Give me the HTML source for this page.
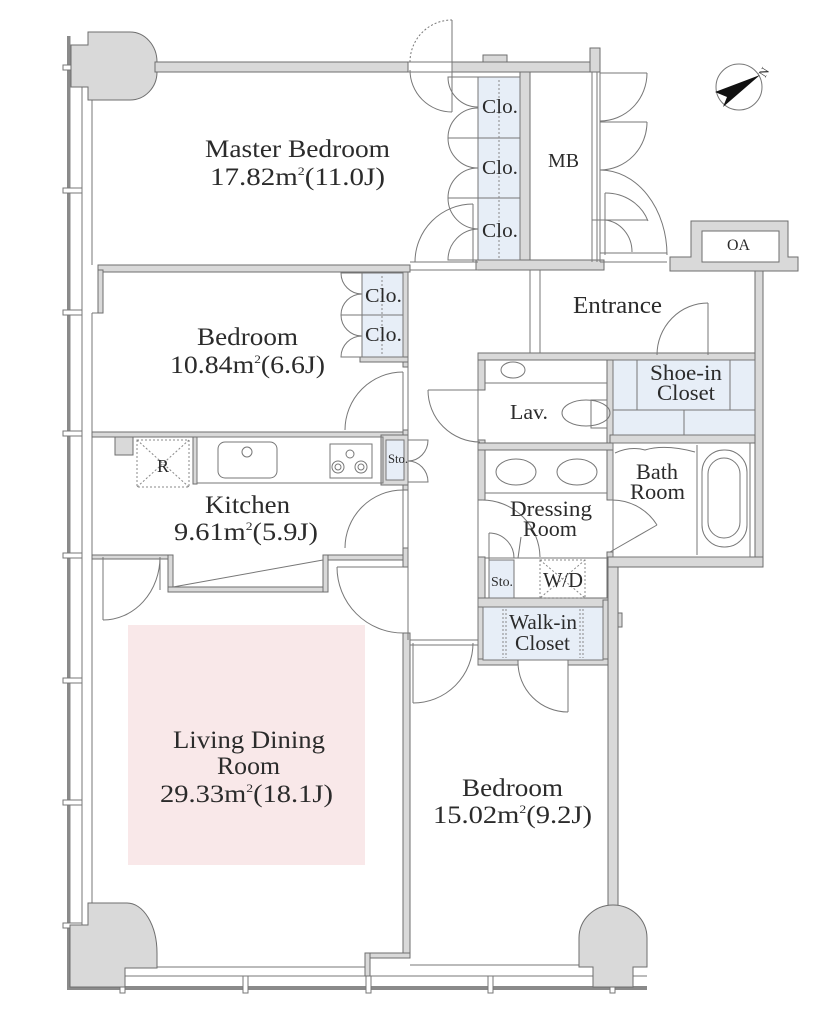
<!DOCTYPE html>
<html><head><meta charset="utf-8"><style>
html,body{margin:0;padding:0;background:#fff;}
svg{display:block;}
text{font-family:"Liberation Serif",serif;fill:#2b2b2b;}
</style></head><body>
<svg width="836" height="1024" viewBox="0 0 836 1024" xmlns="http://www.w3.org/2000/svg">
<rect width="836" height="1024" fill="#fff"/>

<!-- pink LD area -->
<rect x="128" y="625" width="237" height="240" fill="#f9e8e9"/>

<!-- left window strip -->
<g stroke="#777" stroke-width="1" fill="none">
<line x1="82" y1="45" x2="82" y2="925"/>
<line x1="92" y1="100" x2="92" y2="265"/>
<line x1="92" y1="313" x2="92" y2="903"/>
<line x1="92" y1="313" x2="103" y2="313"/>
<line x1="125" y1="976" x2="647" y2="976"/>
<line x1="157" y1="967" x2="367" y2="967"/>
<line x1="410" y1="965" x2="579" y2="965"/>
</g>
<rect x="67" y="36" width="3.5" height="954" fill="#8a8a8a"/>
<rect x="67" y="986" width="580" height="4" fill="#8a8a8a"/>
<g fill="#fff" stroke="#777" stroke-width="1">
<rect x="63" y="65" width="19" height="5"/>
<rect x="63" y="188" width="19" height="5"/>
<rect x="63" y="310" width="19" height="5"/>
<rect x="63" y="431" width="19" height="5"/>
<rect x="63" y="553" width="19" height="5"/>
<rect x="63" y="678" width="19" height="5"/>
<rect x="63" y="800" width="19" height="5"/>
<rect x="63" y="923" width="19" height="5"/>
<rect x="120" y="976" width="5" height="17"/>
<rect x="243" y="976" width="5" height="17"/>
<rect x="366" y="976" width="5" height="17"/>
<rect x="488" y="976" width="5" height="17"/>
<rect x="610" y="976" width="5" height="17"/>
</g>

<!-- walls -->
<g fill="#d9d9d9" stroke="#6e6e6e" stroke-width="1">
<path d="M88,32 L130,32 A27,30 0 0 1 157,62 L157,72 A27,28 0 0 1 130,100 L88,100 L88,87 L71,87 L71,45 L88,45 Z"/>
<rect x="155" y="62" width="253" height="10"/>
<rect x="452" y="62" width="148" height="10"/>
<rect x="483" y="55" width="24" height="7"/>
<rect x="590" y="48" width="10" height="24"/>
<rect x="520" y="72" width="10" height="190"/>
<rect x="476" y="260" width="128" height="10"/>
<rect x="98" y="265" width="312" height="7"/>
<rect x="98" y="270" width="5" height="43"/>
<rect x="403" y="272" width="5" height="95"/>
<rect x="360" y="357" width="48" height="5"/>
<rect x="92" y="432" width="316" height="5"/>
<rect x="403" y="430" width="5" height="60"/>
<rect x="381" y="435" width="27" height="50"/>
<rect x="115" y="437" width="18" height="18"/>
<rect x="193" y="437" width="4" height="47"/>
<rect x="92" y="555" width="76" height="4"/>
<rect x="168" y="555" width="5" height="37"/>
<rect x="168" y="587" width="160" height="5"/>
<rect x="323" y="555" width="5" height="37"/>
<rect x="328" y="555" width="80" height="5"/>
<rect x="403" y="548" width="5" height="19"/>
<rect x="403" y="633" width="7" height="325"/>
<rect x="365" y="953" width="45" height="5"/>
<rect x="365" y="953" width="5" height="23"/>
<!-- lav block -->
<rect x="478" y="353" width="285" height="7"/>
<rect x="478" y="360" width="7" height="30"/>
<rect x="478" y="440" width="7" height="60"/>
<rect x="478" y="557" width="7" height="108"/>
<rect x="607" y="360" width="6" height="140"/>
<rect x="607" y="552" width="6" height="48"/>
<rect x="478" y="443" width="135" height="7"/>
<rect x="610" y="435" width="153" height="8"/>
<rect x="755" y="271" width="8" height="296"/>
<rect x="608" y="557" width="155" height="10"/>
<rect x="608" y="567" width="10" height="340"/>
<rect x="618" y="613" width="4" height="14"/>
<rect x="478" y="598" width="130" height="9"/>
<rect x="603" y="600" width="5" height="65"/>
<rect x="478" y="659" width="40" height="6"/>
<rect x="568" y="659" width="40" height="6"/>
<!-- entrance top + OA -->
<path d="M670,257 L691,257 L691,221 L788,221 L788,257 L798,257 L798,271 L670,271 Z"/>
<!-- columns -->
<path d="M88,903 L127,903 A30,50 0 0 1 157,953 L157,968 L125,968 L125,987 L70,987 L70,925 L88,925 Z"/>
<path d="M579,967 L579,938 A34,33 0 0 1 647,938 L647,967 L633,967 L633,987 L593,987 L593,967 Z"/>
</g>
<rect x="702" y="231" width="77" height="31" fill="#fff" stroke="#6e6e6e"/>

<!-- closets blue -->
<g fill="#e7eef7" stroke="#777" stroke-width="1">
<rect x="478" y="77" width="42" height="183"/>
<rect x="362" y="273" width="41" height="84"/>
<rect x="386" y="440" width="18" height="40"/>
<rect x="483" y="607" width="120" height="53"/>
<rect x="489" y="560" width="25" height="38"/>
<rect x="613" y="360" width="142" height="75"/>
</g>
<g stroke="#777" stroke-width="1" fill="none">
<line x1="478" y1="138" x2="520" y2="138"/>
<line x1="478" y1="198" x2="520" y2="198"/>
<line x1="362" y1="315" x2="403" y2="315"/>
<line x1="637" y1="360" x2="637" y2="410"/>
<line x1="730" y1="360" x2="730" y2="410"/>
<line x1="613" y1="410" x2="755" y2="410"/>
<line x1="684" y1="410" x2="684" y2="435"/>
</g>
<g stroke="#888" stroke-width="1" fill="none" stroke-dasharray="2,2">
<line x1="499" y1="80" x2="499" y2="258"/>
<line x1="382" y1="276" x2="382" y2="355"/>
<line x1="503" y1="609" x2="503" y2="658"/>
<line x1="506" y1="609" x2="506" y2="658"/>
<line x1="580" y1="609" x2="580" y2="658"/>
<line x1="583" y1="609" x2="583" y2="658"/>
<rect x="540" y="560" width="45" height="38"/>
<line x1="540" y1="560" x2="585" y2="598"/>
<line x1="585" y1="560" x2="540" y2="598"/>
<rect x="137" y="440" width="52" height="47"/>
<line x1="137" y1="440" x2="189" y2="487"/>
<line x1="189" y1="440" x2="137" y2="487"/>
</g>

<!-- fixtures & lines -->
<g stroke="#777" stroke-width="1" fill="none">
<line x1="408" y1="272" x2="408" y2="640"/>
<line x1="478" y1="353" x2="478" y2="665"/>
<line x1="530" y1="270" x2="530" y2="353"/>
<line x1="540" y1="270" x2="540" y2="353"/>
<line x1="592" y1="72" x2="592" y2="262"/>
<line x1="597" y1="72" x2="597" y2="262"/>
<line x1="600" y1="72" x2="600" y2="262"/>
<line x1="600" y1="253" x2="667" y2="253"/>
<line x1="600" y1="262" x2="667" y2="262"/>
<line x1="408" y1="62" x2="452" y2="62"/>
<line x1="408" y1="72" x2="452" y2="72"/>
<line x1="410" y1="262" x2="478" y2="262"/>
<line x1="410" y1="270" x2="478" y2="270"/>
<line x1="410" y1="640" x2="478" y2="640"/>
<line x1="410" y1="645" x2="478" y2="645"/>
<!-- kitchen counter -->
<rect x="197" y="437" width="186" height="46"/>
<rect x="218" y="442" width="59" height="36" rx="7"/>
<circle cx="247" cy="452" r="5"/>
<rect x="330" y="444" width="42" height="34"/>
<circle cx="350" cy="454" r="4"/>
<circle cx="338" cy="467" r="6"/><circle cx="338" cy="467" r="3"/>
<circle cx="361" cy="467" r="6"/><circle cx="361" cy="467" r="3"/>
<line x1="173" y1="587" x2="323" y2="560"/>
<!-- lav -->
<line x1="485" y1="383" x2="607" y2="383"/>
<ellipse cx="513" cy="370" rx="12" ry="8"/>
<ellipse cx="586" cy="413" rx="24" ry="13"/>
<rect x="591" y="400" width="16" height="28"/>
<!-- dressing -->
<line x1="485" y1="493" x2="607" y2="493"/>
<ellipse cx="516" cy="472" rx="20" ry="13"/>
<ellipse cx="577" cy="472" rx="20" ry="13"/>
<line x1="485" y1="558" x2="607" y2="558"/>
<!-- bath -->
<rect x="613" y="443" width="137" height="114"/>
<line x1="697" y1="445" x2="697" y2="555"/>
<rect x="702" y="450" width="45" height="97" rx="22"/>
<rect x="708" y="458" width="32" height="80" rx="16"/>
<path d="M615,453 Q630,446 645,450 Q665,444 695,452"/>
<!-- doors -->
<line x1="452" y1="20" x2="452" y2="112"/>
<path d="M410,70 A42,42 0 0 0 452,112"/>
<path d="M410,62 A42,42 0 0 1 452,20" stroke-dasharray="2,2"/>
<line x1="473" y1="204" x2="473" y2="262"/>
<path d="M415,262 A58,58 0 0 1 473,204"/>
<line x1="403" y1="372" x2="403" y2="430"/>
<path d="M345,430 A58,58 0 0 1 403,372"/>
<line x1="403" y1="490" x2="403" y2="548"/>
<path d="M345,548 A58,58 0 0 1 403,490"/>
<line x1="337" y1="567" x2="403" y2="567"/>
<path d="M337,567 A66,66 0 0 0 403,633"/>
<line x1="103" y1="557" x2="103" y2="620"/>
<path d="M103,620 A57,63 0 0 0 160,557"/>
<line x1="160" y1="557" x2="160" y2="590"/>
<line x1="428" y1="390" x2="480" y2="390"/>
<path d="M428,390 A52,52 0 0 0 480,442"/>
<path d="M482,500 A58,58 0 0 1 540,557"/>
<line x1="489" y1="533" x2="489" y2="560"/>
<path d="M489,533 A25,25 0 0 1 514,558"/>
<line x1="518" y1="558" x2="521" y2="537"/>
<line x1="610" y1="552" x2="657" y2="525"/>
<path d="M657,525 A53,53 0 0 0 610,500"/>
<line x1="568" y1="660" x2="568" y2="712"/>
<path d="M518,662 A50,50 0 0 0 568,712"/>
<line x1="413" y1="643" x2="413" y2="703"/>
<path d="M413,703 A60,60 0 0 0 473,643"/>
<line x1="708" y1="303" x2="708" y2="355"/>
<path d="M708,303 A51,52 0 0 0 657,355"/>
<!-- MB doors -->
<line x1="600" y1="73" x2="647" y2="73"/>
<path d="M647,73 A47,48 0 0 1 600,121"/>
<line x1="600" y1="122" x2="647" y2="122"/>
<path d="M647,122 A47,48 0 0 1 600,170"/>
<path d="M600,170 A67,85 0 0 1 667,255"/>
<line x1="605" y1="193" x2="605" y2="255"/>
<path d="M605,193 A45,42 0 0 1 648,221"/>
<line x1="592" y1="220" x2="648" y2="220"/>
<path d="M605,220 A30,32 0 0 1 632,252"/>
<!-- closet bifold doors -->
<path d="M478,77 H448 A30,30 0 0 0 478,107 M478,138 H448 A30,30 0 0 1 478,108"/>
<path d="M478,138 H448 A30,30 0 0 0 478,168 M478,198 H448 A30,30 0 0 1 478,168"/>
<path d="M478,198 H448 A31,31 0 0 0 478,229 M478,260 H448 A31,31 0 0 1 478,229"/>
<path d="M362,273 H341 A21,21 0 0 0 362,294 M362,315 H341 A21,21 0 0 1 362,294"/>
<path d="M362,315 H341 A21,21 0 0 0 362,336 M362,357 H341 A21,21 0 0 1 362,336"/>
<path d="M408,440 H428 A20,21 0 0 1 408,461 M408,482 H428 A20,21 0 0 0 408,461"/>
</g>

<!-- north arrow -->
<circle cx="739" cy="87" r="23" fill="none" stroke="#777" stroke-width="1"/>
<polygon points="760,75 715,92 727,97 723,107" fill="#111"/>
<text x="0" y="0" font-size="12" transform="translate(765,78) rotate(-58)">N</text>

<!-- labels -->
<text x="205" y="157" font-size="25" textLength="185" lengthAdjust="spacingAndGlyphs">Master Bedroom</text>
<text x="210" y="185" font-size="25" textLength="175" lengthAdjust="spacingAndGlyphs">17.82m<tspan font-size="12" dy="-10">2</tspan><tspan dy="10">(11.0J)</tspan></text>
<text x="197" y="345" font-size="25" textLength="101" lengthAdjust="spacingAndGlyphs">Bedroom</text>
<text x="170" y="373" font-size="25" textLength="155" lengthAdjust="spacingAndGlyphs">10.84m<tspan font-size="12" dy="-10">2</tspan><tspan dy="10">(6.6J)</tspan></text>
<text x="205" y="513" font-size="25" textLength="85" lengthAdjust="spacingAndGlyphs">Kitchen</text>
<text x="174" y="540" font-size="25" textLength="144" lengthAdjust="spacingAndGlyphs">9.61m<tspan font-size="12" dy="-10">2</tspan><tspan dy="10">(5.9J)</tspan></text>
<text x="173" y="748" font-size="25" textLength="152" lengthAdjust="spacingAndGlyphs">Living Dining</text>
<text x="217" y="774" font-size="25" textLength="63" lengthAdjust="spacingAndGlyphs">Room</text>
<text x="160" y="802" font-size="25" textLength="173" lengthAdjust="spacingAndGlyphs">29.33m<tspan font-size="12" dy="-10">2</tspan><tspan dy="10">(18.1J)</tspan></text>
<text x="462" y="796" font-size="25" textLength="101" lengthAdjust="spacingAndGlyphs">Bedroom</text>
<text x="433" y="823" font-size="25" textLength="159" lengthAdjust="spacingAndGlyphs">15.02m<tspan font-size="12" dy="-10">2</tspan><tspan dy="10">(9.2J)</tspan></text>
<text x="573" y="313" font-size="24" textLength="89" lengthAdjust="spacingAndGlyphs">Entrance</text>
<text x="548" y="167" font-size="20" textLength="31" lengthAdjust="spacingAndGlyphs">MB</text>
<text x="482" y="113" font-size="20" textLength="36" lengthAdjust="spacingAndGlyphs">Clo.</text>
<text x="482" y="174" font-size="20" textLength="36" lengthAdjust="spacingAndGlyphs">Clo.</text>
<text x="482" y="237" font-size="20" textLength="36" lengthAdjust="spacingAndGlyphs">Clo.</text>
<text x="365" y="302" font-size="20" textLength="37" lengthAdjust="spacingAndGlyphs">Clo.</text>
<text x="365" y="341" font-size="20" textLength="37" lengthAdjust="spacingAndGlyphs">Clo.</text>
<text x="727" y="250" font-size="16" textLength="23" lengthAdjust="spacingAndGlyphs">OA</text>
<text x="650" y="380" font-size="22" textLength="72" lengthAdjust="spacingAndGlyphs">Shoe-in</text>
<text x="657" y="400" font-size="22" textLength="58" lengthAdjust="spacingAndGlyphs">Closet</text>
<text x="510" y="419" font-size="21" textLength="38" lengthAdjust="spacingAndGlyphs">Lav.</text>
<text x="636" y="479" font-size="22" textLength="42" lengthAdjust="spacingAndGlyphs">Bath</text>
<text x="630" y="499" font-size="22" textLength="55" lengthAdjust="spacingAndGlyphs">Room</text>
<text x="510" y="516" font-size="22" textLength="82" lengthAdjust="spacingAndGlyphs">Dressing</text>
<text x="523" y="536" font-size="22" textLength="54" lengthAdjust="spacingAndGlyphs">Room</text>
<text x="491" y="586" font-size="14" textLength="22" lengthAdjust="spacingAndGlyphs">Sto.</text>
<text x="543" y="587" font-size="21" textLength="40" lengthAdjust="spacingAndGlyphs">W/D</text>
<text x="509" y="629" font-size="21" textLength="68" lengthAdjust="spacingAndGlyphs">Walk-in</text>
<text x="515" y="650" font-size="21" textLength="55" lengthAdjust="spacingAndGlyphs">Closet</text>
<text x="157" y="472" font-size="18" textLength="12" lengthAdjust="spacingAndGlyphs">R</text>
<text x="388" y="463" font-size="13" textLength="20" lengthAdjust="spacingAndGlyphs">Sto.</text>
</svg>
</body></html>
